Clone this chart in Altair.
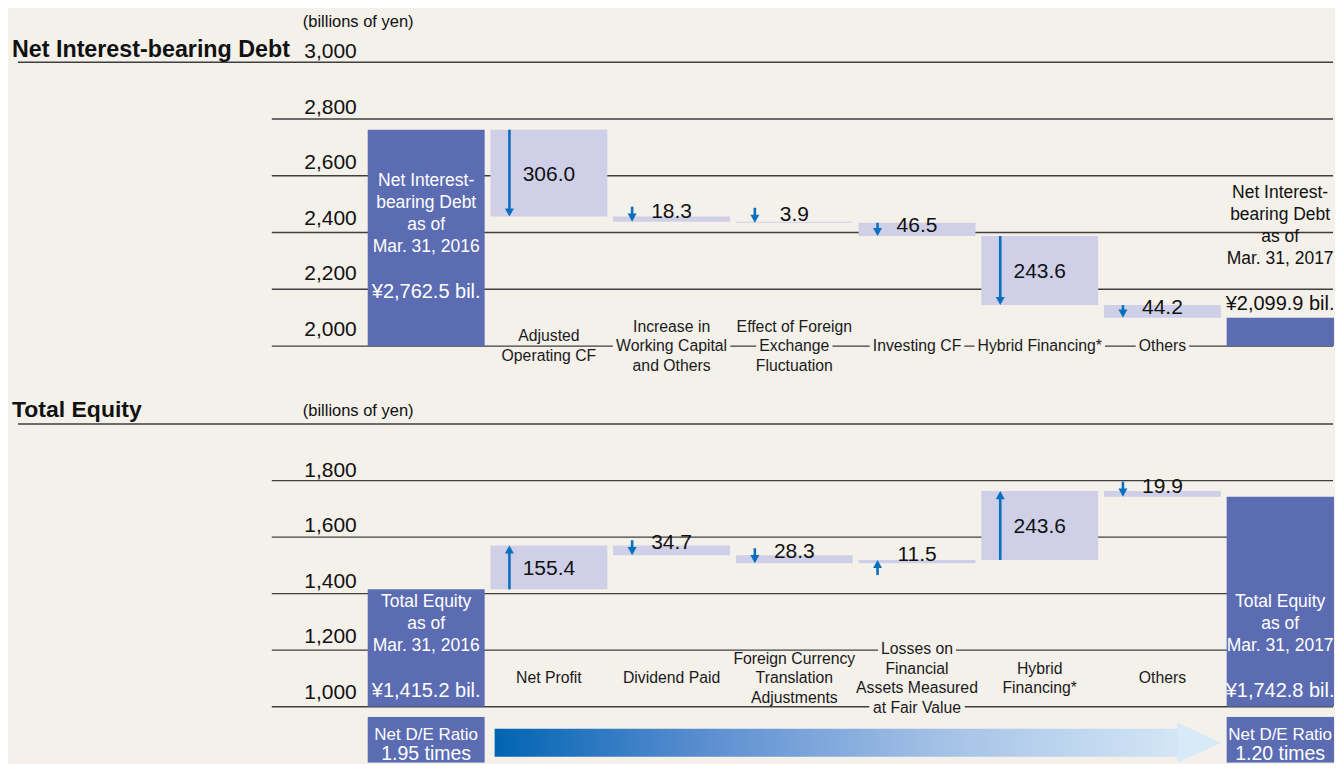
import altair as alt
import pandas as pd

# ---------------- data ----------------
debt_step_labels = [
    [],
    ["Adjusted", "Operating CF"],
    ["Increase in", "Working Capital", "and Others"],
    ["Effect of Foreign", "Exchange", "Fluctuation"],
    ["Investing CF"],
    ["Hybrid Financing*"],
    ["Others"],
    [],
]
debt_start = 2762.5
debt_changes = [-306.0, -18.3, -3.9, -46.5, -243.6, -44.2]
debt_end = 2099.9
debt_ticks = [2000, 2200, 2400, 2600, 2800, 3000]
debt_tick_labels = ["2,000", "2,200", "2,400", "2,600", "2,800", "3,000"]
debt_start_box = ["Net Interest-", "bearing Debt", "as of", "Mar. 31, 2016"]
debt_end_box = ["Net Interest-", "bearing Debt", "as of", "Mar. 31, 2017"]
debt_start_value = "¥2,762.5 bil."
debt_end_value = "¥2,099.9 bil."

equity_step_labels = [
    [],
    ["Net Profit"],
    ["Dividend Paid"],
    ["Foreign Currency", "Translation", "Adjustments"],
    ["Losses on", "Financial", "Assets Measured", "at Fair Value"],
    ["Hybrid", "Financing*"],
    ["Others"],
    [],
]
equity_start = 1415.2
equity_changes = [155.4, -34.7, -28.3, 11.5, 243.6, -19.9]
equity_end = 1742.8
equity_ticks = [1000, 1200, 1400, 1600, 1800, 2000]
equity_tick_labels = ["1,000", "1,200", "1,400", "1,600", "1,800", ""]
equity_start_box = ["Total Equity", "as of", "Mar. 31, 2016"]
equity_end_box = ["Total Equity", "as of", "Mar. 31, 2017"]
equity_start_value = "¥1,415.2 bil."
equity_end_value = "¥1,742.8 bil."

de_label = "Net D/E Ratio"
de_values = ["1.95 times", "1.20 times"]

titles = ["Net Interest-bearing Debt", "Total Equity"]
unit_note = "(billions of yen)"

# ---------------- style / layout ----------------
BG = "#f4f0ea"
DARK = "#5c6cb2"
LIGHT = "#cfd0e8"
BLUE = "#0b6fbd"
GRID = "#3f3f3f"
FONT = "Liberation Sans"

W = 1327
COL_PX = 122.8
COL0 = 418.5
BAR_W = 117
X_DOMAIN = [-COL0 / COL_PX, (W - COL0) / COL_PX]
H_TOP, H_BOT, H_DE = 284, 283, 46
LH = 19.5
CAT_FS = 15.8
GRID_END = 1326
LAST_SHIFT = 5 / COL_PX  # keep texts of the clipped last column inside the page

AW = {}
for ch, w in zip("ABCDEFGHIJKLMNOPQRSTUVWXYZ",
                 [667, 667, 722, 722, 667, 611, 778, 722, 278, 500, 667, 556, 833,
                  722, 778, 667, 778, 722, 667, 611, 722, 667, 944, 667, 667, 611]):
    AW[ch] = w
for ch, w in zip("abcdefghijklmnopqrstuvwxyz",
                 [556, 556, 500, 556, 556, 278, 556, 556, 222, 222, 500, 222, 833,
                  556, 556, 556, 556, 333, 500, 278, 556, 500, 722, 500, 500, 500]):
    AW[ch] = w
AW.update({" ": 278, "*": 389, "-": 333, ".": 278, ",": 278, "/": 278})


def text_px(s, fs):
    return sum(AW.get(c, 556) for c in s) / 1000.0 * fs


XSCALE = alt.Scale(domain=X_DOMAIN, nice=False, zero=False, padding=0)
XENC = alt.X("col:Q", scale=XSCALE, axis=None)
XTXT = alt.X("xt:Q", scale=XSCALE, axis=None)


def panel(start, changes, end, base, H, ticks, tick_labels, tick_gap0, tick_gap_step,
          step_labels, label_center, start_box, end_box, start_val, end_val,
          end_on_top, title, note_dy, title_dy, title_fs):
    pxu = H / 1000.0

    def du(px):
        return px / pxu

    yscale = alt.Scale(domain=[base, base + 1000], nice=False, zero=False, padding=0)

    def Y(f):
        return alt.Y(f + ":Q", scale=yscale, axis=None)

    def Y2(f):
        return alt.Y2(f + ":Q")

    # waterfall
    bars = [dict(col=0, lo=base, hi=start, kind="total")]
    steps = []
    cum = start
    for i, d in enumerate(changes, 1):
        new = cum + d
        bars.append(dict(col=i, lo=min(cum, new), hi=max(cum, new), kind="change"))
        sgn = 1 if d > 0 else -1
        hpx = abs(d) * pxu
        tail = cum if hpx >= 12 else new - sgn * du(15)
        shaft_end = new - sgn * du(5)
        if hpx < 12:
            ly = (cum + new) / 2 + du(7)
        elif hpx < 20:
            ly = (cum + new) / 2 + du(3)
        else:
            ly = (cum + new) / 2 - du(1.5)
        steps.append(dict(col=i, tail=tail, shaft_end=shaft_end, tip=new,
                          dir="up" if d > 0 else "down",
                          label=f"{abs(d):.1f}", label_y=ly))
        cum = new
    bars.append(dict(col=7, lo=base, hi=end, kind="total"))
    bars = pd.DataFrame(bars)
    steps = pd.DataFrame(steps)

    # category labels
    cat = []
    for col, lines in enumerate(step_labels):
        n = len(lines)
        for k, s in enumerate(lines):
            y = label_center + du(((n - 1) / 2 - k) * LH)
            w = text_px(s, CAT_FS) + 6
            cat.append(dict(col=col, y=y, text=s,
                            x0=col - w / 2 / COL_PX, x1=col + w / 2 / COL_PX,
                            y0=y - du(8), y1=y + du(8)))
    cat = pd.DataFrame(cat)

    # summary box texts (first label line placed, following lines go down)
    boxes = []
    v0 = base + du(54) if end_on_top else base + du(16)
    boxes.append(dict(xt=0, yv=v0, yl=v0 + du(45 + (len(start_box) - 1) * 22),
                      lab="\n".join(start_box), val=start_val, tc="white"))
    v1 = end + du(14) if end_on_top else base + du(16)
    boxes.append(dict(xt=7 - LAST_SHIFT, yv=v1,
                      yl=v1 + du(45 + (len(end_box) - 1) * 22),
                      lab="\n".join(end_box), val=end_val,
                      tc="#111111" if end_on_top else "white"))
    boxes = pd.DataFrame(boxes)

    # tick labels sit a little above their gridline
    labeled = [(v, t) for v, t in zip(ticks, tick_labels) if t]
    labeled.sort(key=lambda p: -p[0])
    ticks_lab = pd.DataFrame([dict(y=v + du(tick_gap0 + k * tick_gap_step), t=t)
                              for k, (v, t) in enumerate(labeled)])
    grid_df = pd.DataFrame(dict(y=[v for v in ticks if v < base + 1000]))
    top_df = pd.DataFrame(dict(y=[base + 1000], title=[title], note=[unit_note]))

    grid_top = alt.Chart(top_df).mark_rule(color=GRID, strokeWidth=1.6).encode(
        y=Y("y"), x=alt.value(10), x2=alt.value(GRID_END))
    grid = alt.Chart(grid_df).mark_rule(color=GRID, strokeWidth=1.3).encode(
        y=Y("y"), x=alt.value(264), x2=alt.value(GRID_END))
    label_bg = alt.Chart(cat).mark_rect(color=BG).encode(
        x=alt.X("x0:Q", scale=XSCALE, axis=None),
        x2="x1:Q", y=Y("y0"), y2=Y2("y1"))
    bar = alt.Chart(bars).mark_bar(width=BAR_W, clip=True).encode(
        x=XENC, y=Y("lo"), y2=Y2("hi"),
        color=alt.Color("kind:N", scale=alt.Scale(domain=["total", "change"],
                                                  range=[DARK, LIGHT]), legend=None))
    shaft = alt.Chart(steps).mark_rule(color=BLUE, strokeWidth=2.6, xOffset=-39.5).encode(
        x=XENC, y=Y("tail"), y2=Y2("shaft_end"))
    head_dn = alt.Chart(steps[steps.dir == "down"]).mark_point(
        shape="M-1,-1.8L1,-1.8L0,0Z", size=81, filled=True, opacity=1,
        color=BLUE, xOffset=-39.5).encode(x=XENC, y=Y("tip"))
    head_up = alt.Chart(steps[steps.dir == "up"]).mark_point(
        shape="M-1,1.8L1,1.8L0,0Z", size=81, filled=True, opacity=1,
        color=BLUE, xOffset=-39.5).encode(x=XENC, y=Y("tip"))
    vals = alt.Chart(steps).mark_text(font=FONT, fontSize=21, color="#111111",
                                      baseline="middle").encode(
        x=XENC, y=Y("label_y"), text="label:N")
    cats = alt.Chart(cat).mark_text(font=FONT, fontSize=CAT_FS, color="#1a1a1a",
                                    baseline="middle").encode(
        x=XENC, y=Y("y"), text="text:N")
    tick_txt = alt.Chart(ticks_lab).mark_text(
        font=FONT, fontSize=21, color="#111111",
        align="right", baseline="alphabetic").encode(
        x=alt.value(349), y=Y("y"), text="t:N")
    ttl = alt.Chart(top_df).mark_text(font=FONT, fontSize=title_fs, fontWeight="bold",
                                      color="#111111", align="left",
                                      baseline="middle", dy=title_dy).encode(
        x=alt.value(4), y=Y("y"), text="title:N")
    note = alt.Chart(top_df).mark_text(font=FONT, fontSize=16.5, color="#111111",
                                       align="left", baseline="middle",
                                       dy=note_dy).encode(
        x=alt.value(295), y=Y("y"), text="note:N")
    box_lab = alt.Chart(boxes).mark_text(font=FONT, fontSize=17.5, lineHeight=22,
                                         lineBreak="\n", baseline="middle").encode(
        x=XTXT, y=Y("yl"), text="lab:N", color=alt.Color("tc:N", scale=None))
    box_val = alt.Chart(boxes).mark_text(font=FONT, fontSize=20,
                                         baseline="middle").encode(
        x=XTXT, y=Y("yv"), text="val:N", color=alt.Color("tc:N", scale=None))

    return alt.layer(grid_top, grid, label_bg, bar, shaft, head_dn, head_up, vals,
                     cats, tick_txt, ttl, note, box_lab, box_val).properties(
        width=W, height=H)


top = panel(debt_start, debt_changes, debt_end, 2000, H_TOP, debt_ticks,
            debt_tick_labels, 4.0, 1.2, debt_step_labels, 2000, debt_start_box,
            debt_end_box, debt_start_value, debt_end_value, True, titles[0],
            -40, -12, 23.3)
bottom = panel(equity_start, equity_changes, equity_end, 1000, H_BOT, equity_ticks,
               equity_tick_labels, 3.5, 1.1, equity_step_labels, 1100,
               equity_start_box, equity_end_box, equity_start_value,
               equity_end_value, False, titles[1], -13, -14, 23)

# ---------------- D/E row ----------------
de_px = H_DE


def de_u(px_from_top):
    return 1 - px_from_top / de_px


de_boxes = pd.DataFrame(dict(col=[0, 7], xt=[0, 7 - LAST_SHIFT], lo=[0, 0], hi=[1, 1],
                             lab=[de_label, de_label], val=de_values,
                             yl=[de_u(18.5)] * 2, yv=[de_u(37.5)] * 2))
HEAD_LEN = 43.7
HEAD_HALF = 20
arrow_tip = 7 - (BAR_W / 2 + 5.5) / COL_PX
shaft_df = pd.DataFrame(dict(x0=[(BAR_W / 2 + 10) / COL_PX],
                             x1=[arrow_tip - (HEAD_LEN - 1) / COL_PX],
                             y0=[de_u(12)], y1=[de_u(40)]))
head_df = pd.DataFrame(dict(col=[arrow_tip], y=[de_u(26)]))

yde = alt.Scale(domain=[0, 1], nice=False, zero=False, padding=0)
de_bar = alt.Chart(de_boxes).mark_bar(width=BAR_W, clip=True, color=DARK).encode(
    x=XENC, y=alt.Y("lo:Q", scale=yde, axis=None), y2="hi:Q")
grad = alt.LinearGradient(
    gradient="linear", x1=0, x2=1, y1=0, y2=0,
    stops=[alt.GradientStop(offset=0, color="#0064b2"),
           alt.GradientStop(offset=0.3, color="#5a8dd0"),
           alt.GradientStop(offset=0.65, color="#a3c1e6"),
           alt.GradientStop(offset=1, color="#d4e6f6")])
de_shaft = alt.Chart(shaft_df).mark_rect(color=grad).encode(
    x=alt.X("x0:Q", scale=XSCALE, axis=None), x2="x1:Q",
    y=alt.Y("y0:Q", scale=yde, axis=None), y2="y1:Q")
head_path = f"M0,0L{-HEAD_LEN / HEAD_HALF:.3f},-1L{-HEAD_LEN / HEAD_HALF:.3f},1Z"
de_head = alt.Chart(head_df).mark_point(
    shape=head_path, size=(2 * HEAD_HALF) ** 2, filled=True, opacity=1,
    color="#d8e9f7").encode(x=XENC, y=alt.Y("y:Q", scale=yde, axis=None))
de_lab = alt.Chart(de_boxes).mark_text(font=FONT, fontSize=17, color="white",
                                       baseline="middle").encode(
    x=XTXT, y=alt.Y("yl:Q", scale=yde, axis=None), text="lab:N")
de_val = alt.Chart(de_boxes).mark_text(font=FONT, fontSize=19.5, color="white",
                                       baseline="middle").encode(
    x=XTXT, y=alt.Y("yv:Q", scale=yde, axis=None), text="val:N")
de = alt.layer(de_bar, de_shaft, de_head, de_lab, de_val).properties(width=W, height=H_DE)

chart = alt.vconcat(
    top,
    alt.vconcat(bottom, de, spacing=10, bounds="flush"),
    spacing=78, bounds="flush",
).properties(
    padding={"left": 0, "top": 6, "right": 0, "bottom": 0},
    background=BG,
).configure_view(stroke=None)

chart.save("out.html", embed_options={"renderer": "svg", "actions": False})
